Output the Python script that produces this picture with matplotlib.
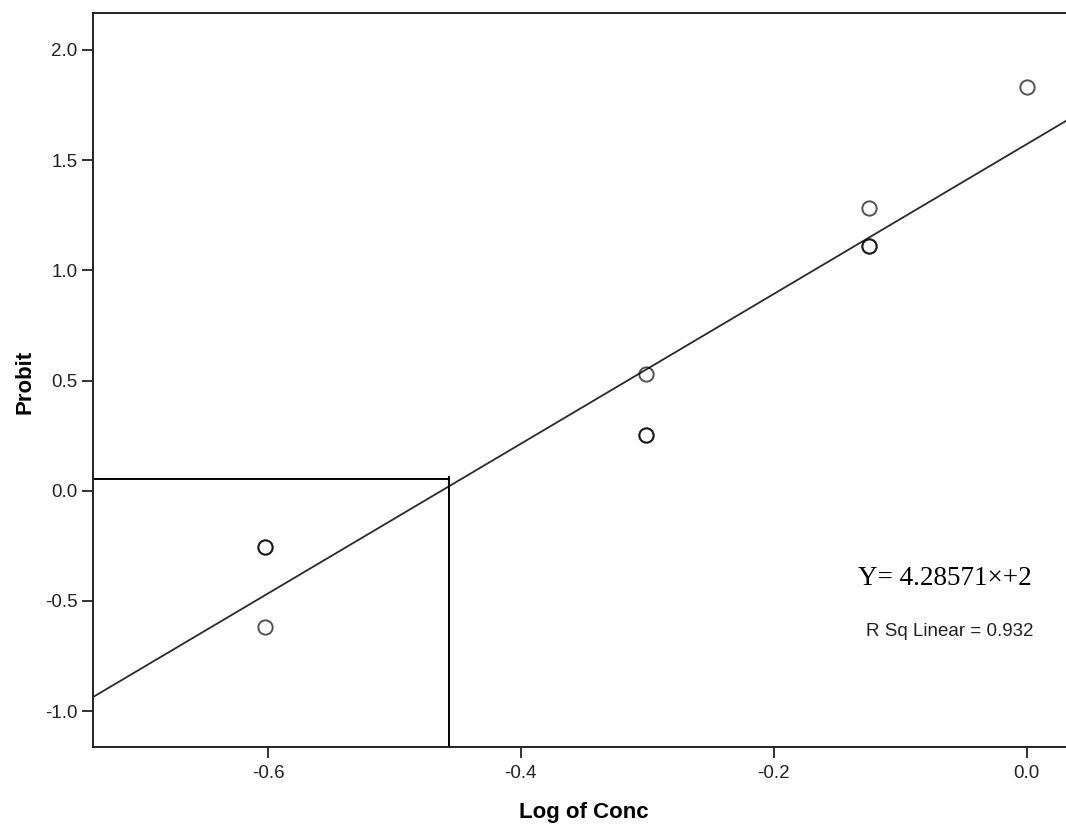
import numpy as np
import matplotlib
matplotlib.use("Agg")
import matplotlib.pyplot as plt
from matplotlib.ticker import FormatStrFormatter

plt.rcParams["font.family"] = ["Liberation Sans", "DejaVu Sans"]
plt.rcParams["axes.unicode_minus"] = False

# datos (puntos repetidos incluidos, se ven más oscuros)
log_conc = [-0.602, -0.602, -0.602, -0.301, -0.301, -0.301, -0.125, -0.125, -0.125, 0.0]
probit = [-0.254, -0.254, -0.617, 0.528, 0.253, 0.253, 1.282, 1.110, 1.110, 1.833]

x_ticks = [-0.6, -0.4, -0.2, 0.0]
y_ticks = [-1.0, -0.5, 0.0, 0.5, 1.0, 1.5, 2.0]
x_lim = (-0.7384, 0.0311)
y_lim = (-1.1618, 2.1666)

# líneas de referencia (LC50)
ref_x = -0.457
ref_y = 0.052

ecuacion = "Y= 4.28571\u00d7+2"
r2_texto = "R Sq Linear = 0.932"

fig = plt.figure(figsize=(10.66, 8.30), dpi=100)
ax = fig.add_axes([0.0872, 0.1004, 0.9128, 0.8836])

ax.set_xlim(x_lim)
ax.set_ylim(y_lim)

# recta de regresión
m, b = np.polyfit(log_conc, probit, 1)
xs = np.array(x_lim)
ax.plot(xs, m * xs + b, color="#2a2a2a", lw=1.3, zorder=2)

ax.plot(log_conc, probit, linestyle="none", marker="o", markersize=10.3,
        markerfacecolor="none", markeredgecolor=(0, 0, 0, 0.68),
        markeredgewidth=1.4, zorder=3)

ax.plot([x_lim[0], ref_x], [ref_y, ref_y], color="black", lw=1.4, zorder=2)
ax.plot([ref_x, ref_x], [y_lim[0], ref_y + 0.008], color="black", lw=1.4, zorder=2)

ax.set_xticks(x_ticks)
ax.set_yticks(y_ticks)
ax.xaxis.set_major_formatter(FormatStrFormatter("%.1f"))
ax.yaxis.set_major_formatter(FormatStrFormatter("%.1f"))
ax.tick_params(axis="both", direction="out", length=8, width=1.3,
               color="#222222", labelsize=13.5, labelcolor="#222222")
ax.tick_params(axis="x", pad=5)
ax.tick_params(axis="y", pad=3)

for s in ["left", "bottom", "top"]:
    ax.spines[s].set_linewidth(1.4)
    ax.spines[s].set_color("#222222")
ax.spines["right"].set_visible(False)

fig.text(0.548, 0.0205, "Log of Conc", fontsize=16, fontweight="bold",
         ha="center", va="center")
fig.text(0.0235, 0.540, "Probit", fontsize=16, fontweight="bold",
         rotation=90, ha="center", va="center")

fig.text(0.886, 0.3036, ecuacion, fontsize=19.5, family="Liberation Serif",
         ha="center", va="center")
fig.text(0.8907, 0.2389, r2_texto, fontsize=13.5, color="#222222",
         ha="center", va="center")

fig.savefig("out.png", dpi=100)
